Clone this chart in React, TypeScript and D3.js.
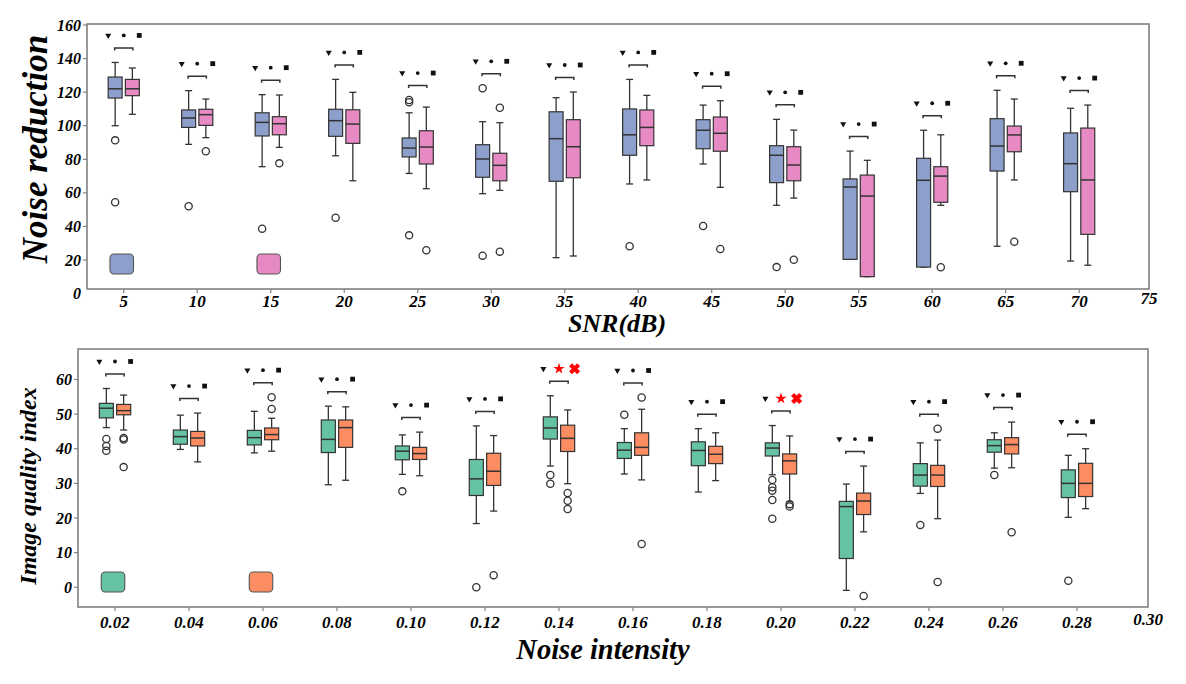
import React, { useRef, useEffect } from 'react';
import * as d3 from 'd3';

// box stats are [lower whisker, q1, median, q3, upper whisker]
type Stats = [number, number, number, number, number];

const snrLevels = [5, 10, 15, 20, 25, 30, 35, 40, 45, 50, 55, 60, 65, 70];
const snrTickLabels = [5, 10, 15, 20, 25, 30, 35, 40, 45, 50, 55, 60, 65, 70, 75];
const snrYTicks = [0, 20, 40, 60, 80, 100, 120, 140, 160];

const reductionBlue: Stats[] = [
  [100, 116.5, 122, 129, 137.7],
  [88.9, 99, 104.6, 109.4, 120.9],
  [75.6, 93.9, 102, 107.7, 118.5],
  [82.1, 93.7, 103, 109.8, 127.6],
  [71.6, 81.4, 86.7, 92.7, 107.7],
  [59.5, 69.3, 80.2, 88.7, 102.4],
  [21.4, 66.9, 92.3, 108.3, 116.7],
  [65.3, 82.4, 94.6, 110, 127.6],
  [77.2, 86.3, 97.3, 103.6, 112.3],
  [52.6, 66.1, 82.4, 88.1, 103.8],
  [20.4, 20.4, 63.5, 68.3, 84.9],
  [15.8, 15.8, 67.5, 80.6, 97.3],
  [28.2, 73, 87.9, 104.2, 121.1],
  [19.4, 60.7, 77.4, 95.7, 110.4],
];
const reductionBlueOutliers: number[][] = [
  [91.3, 54.4], [52], [38.7], [45.2], [115.3, 114, 34.7], [122.3, 22.6], [],
  [28.2], [40.3], [15.8], [], [], [], [],
];
const reductionPink: Stats[] = [
  [106.8, 117.9, 122, 127.6, 134.4],
  [92.9, 100.2, 106.6, 109.8, 115.9],
  [87.1, 94.6, 101.2, 105.4, 118.3],
  [67.2, 89.5, 101, 109.5, 119.9],
  [62.5, 77.2, 87.3, 97, 111.1],
  [61.5, 67.2, 76.4, 83.6, 101.8],
  [22.4, 69, 87.5, 103.6, 120.1],
  [67.7, 88.1, 99, 109.4, 118.1],
  [63.3, 84.8, 95.5, 105.2, 114.9],
  [56.9, 67.2, 76.6, 87.5, 97.4],
  [10.1, 10.1, 58.1, 70.6, 79.4],
  [52.6, 54.4, 70, 75.6, 94.6],
  [67.7, 84.5, 94.5, 99.8, 115.9],
  [16.9, 35.3, 67.7, 98.6, 112.3],
];
const reductionPinkOutliers: number[][] = [
  [], [84.8], [77.6], [], [25.8], [110.7, 25], [], [], [26.6], [20.2], [],
  [15.7], [30.9], [],
];

const noiseLevels = [0.02, 0.04, 0.06, 0.08, 0.1, 0.12, 0.14, 0.16, 0.18, 0.2, 0.22, 0.24, 0.26, 0.28];
const noiseTickLabels = [0.02, 0.04, 0.06, 0.08, 0.1, 0.12, 0.14, 0.16, 0.18, 0.2, 0.22, 0.24, 0.26, 0.28, 0.3];
const iqiYTicks = [0, 10, 20, 30, 40, 50, 60];

const qualityGreen: Stats[] = [
  [46.1, 48.9, 51.7, 53.1, 57.4],
  [39.8, 41.3, 43.5, 45.4, 49.7],
  [38.8, 41.1, 43.2, 45.3, 50.8],
  [29.6, 38.9, 42.7, 48.3, 52.3],
  [32.6, 36.8, 39.3, 40.8, 44],
  [18.4, 26.5, 31.3, 36.9, 46.6],
  [35, 42.8, 46, 49.2, 55.3],
  [32.7, 37.2, 39.6, 41.8, 45.8],
  [27.5, 35.1, 39.5, 42, 45.8],
  [32.5, 37.9, 40.2, 41.7, 46.7],
  [-0.9, 8.3, 23.3, 24.8, 29.8],
  [27.1, 29.2, 32.4, 35.7, 41.7],
  [34.4, 39, 40.9, 42.6, 44.6],
  [20.2, 25.9, 30, 33.9, 38.1],
];
const qualityGreenOutliers: number[][] = [
  [42.8, 40.8, 39.4], [], [], [], [27.7], [0], [32.4, 29.9], [49.8], [],
  [31, 28.9, 27.9, 25.2, 19.8], [], [18], [32.4], [1.9],
];
const qualityOrange: Stats[] = [
  [45.4, 49.8, 51, 52.8, 55.5],
  [36.2, 40.8, 43.1, 45, 50.3],
  [39.3, 42.6, 44.1, 46, 48.8],
  [30.9, 40.4, 46.1, 48.3, 52.1],
  [32.2, 36.9, 38.6, 40.4, 44.8],
  [22, 29.4, 33.5, 38.7, 43.8],
  [29.9, 39.2, 43, 46.8, 51.2],
  [31, 38.1, 40.4, 44.6, 51.4],
  [30.8, 35.7, 38.4, 40.7, 44.6],
  [24.7, 32.7, 36.5, 38.5, 43.7],
  [16, 21, 24.9, 27.2, 35],
  [19.8, 29.1, 32.4, 35.2, 42.5],
  [34.5, 38.5, 41.2, 43.2, 47.7],
  [22.7, 26.2, 30, 35.8, 40],
];
const qualityOrangeOutliers: number[][] = [
  [43.1, 42.7, 34.7], [], [54.9, 51.5], [], [], [3.5], [27.2, 25, 22.6],
  [54.8, 12.5], [], [24, 23.3], [-2.5], [45.8, 1.5], [15.9], [],
];
// groups where the star and cross markers are red
const qualityRedLevels = [0.14, 0.2];

const FONT = '"Liberation Serif", "Times New Roman", serif';
const INK = '#333333';

interface PanelConfig {
  left: number;
  right: number;
  top: number;
  bottom: number;
  xDomain: [number, number];
  yDomain: [number, number];
  levels: number[];
  xTicks: number[];
  xFormat: (d: number) => string;
  yTicks: number[];
  seriesA: Stats[];
  seriesB: Stats[];
  outliersA: number[][];
  outliersB: number[][];
  colorA: string;
  colorB: string;
  redLevels: number[];
  tickFont: number;
  xLabelOffset: number;
  xTitle: string;
  xTitleX: number;
  xTitleY: number;
  xTitleSize: number;
  yTitle: string;
  yTitleX: number;
  yTitleY: number;
  yTitleSize: number;
}

function drawPanel(svg: d3.Selection<SVGSVGElement, unknown, null, undefined>, c: PanelConfig) {
  const x = d3.scaleLinear().domain(c.xDomain).range([c.left, c.right]).clamp(true);
  const y = d3.scaleLinear().domain(c.yDomain).range([c.bottom, c.top]);
  const g = svg.append('g');

  g.append('rect')
    .attr('x', c.left)
    .attr('y', c.top)
    .attr('width', c.right - c.left)
    .attr('height', c.bottom - c.top)
    .attr('fill', '#fff')
    .attr('stroke', '#808080')
    .attr('stroke-width', 1.6);

  // y ticks
  c.yTicks.forEach(t => {
    const ty = y(t);
    if (ty >= c.top - 1 && ty <= c.bottom + 1) {
      g.append('line')
        .attr('x1', c.left - 4).attr('x2', c.left)
        .attr('y1', ty).attr('y2', ty)
        .attr('stroke', '#808080').attr('stroke-width', 1.2);
    }
    g.append('text')
      .attr('x', c.left - 6)
      .attr('y', ty)
      .attr('dy', '0.35em')
      .attr('text-anchor', 'end')
      .attr('font-family', FONT)
      .attr('font-weight', 'bold')
      .attr('font-style', 'italic')
      .attr('font-size', c.tickFont)
      .text(t);
  });

  // x ticks
  c.xTicks.forEach(t => {
    const tx = x(t);
    if (t <= c.xDomain[1]) {
      g.append('line')
        .attr('x1', tx).attr('x2', tx)
        .attr('y1', c.bottom).attr('y2', c.bottom + 4)
        .attr('stroke', '#808080').attr('stroke-width', 1.2);
    }
    g.append('text')
      .attr('x', tx)
      .attr('y', c.bottom + c.xLabelOffset - (t > c.xDomain[1] ? 3 : 0))
      .attr('text-anchor', 'middle')
      .attr('font-family', FONT)
      .attr('font-weight', 'bold')
      .attr('font-style', 'italic')
      .attr('font-size', c.tickFont + 1)
      .text(c.xFormat(t));
  });

  const step = x(c.levels[1]) - x(c.levels[0]);
  const boxW = step * 0.19;
  const offset = step * 0.117;
  const capW = boxW * 0.5;

  const drawBox = (cx: number, s: Stats, outs: number[], fill: string) => {
    const [lo, q1, med, q3, hi] = s;
    const bg = g.append('g');
    bg.append('line').attr('x1', cx).attr('x2', cx).attr('y1', y(q3)).attr('y2', y(hi))
      .attr('stroke', INK).attr('stroke-width', 1.3);
    bg.append('line').attr('x1', cx).attr('x2', cx).attr('y1', y(q1)).attr('y2', y(lo))
      .attr('stroke', INK).attr('stroke-width', 1.3);
    [hi, lo].forEach(v => {
      bg.append('line').attr('x1', cx - capW / 2).attr('x2', cx + capW / 2)
        .attr('y1', y(v)).attr('y2', y(v))
        .attr('stroke', INK).attr('stroke-width', 1.3);
    });
    bg.append('rect')
      .attr('x', cx - boxW / 2).attr('y', y(q3))
      .attr('width', boxW).attr('height', y(q1) - y(q3))
      .attr('fill', fill).attr('stroke', INK).attr('stroke-width', 1.2);
    bg.append('line').attr('x1', cx - boxW / 2).attr('x2', cx + boxW / 2)
      .attr('y1', y(med)).attr('y2', y(med))
      .attr('stroke', INK).attr('stroke-width', 1.5);
    outs.forEach(o => {
      bg.append('circle').attr('cx', cx).attr('cy', y(o)).attr('r', 3.6)
        .attr('fill', 'none').attr('stroke', INK).attr('stroke-width', 1.3);
    });
  };

  c.levels.forEach((lv, i) => {
    const cx = x(lv);
    drawBox(cx - offset, c.seriesA[i], c.outliersA[i], c.colorA);
    drawBox(cx + offset, c.seriesB[i], c.outliersB[i], c.colorB);

    // significance bracket and markers above the highest point of the pair
    const top = d3.max([
      c.seriesA[i][4], c.seriesB[i][4], ...c.outliersA[i], ...c.outliersB[i],
    ]) as number;
    const by = y(top) - 14.5;
    const my = y(top) - 27;
    const bw = step * 0.124;
    g.append('path')
      .attr('d', `M${cx - bw},${by + 2.5}V${by}H${cx + bw}V${by + 2.5}`)
      .attr('fill', 'none').attr('stroke', INK).attr('stroke-width', 1.5);

    const red = c.redLevels.includes(lv);
    const mx = step * 0.211;
    g.append('path')
      .attr('d', d3.symbol(d3.symbolTriangle, 16)())
      .attr('transform', `translate(${cx - mx},${my}) rotate(180)`)
      .attr('fill', '#111');
    if (red) {
      g.append('path')
        .attr('d', d3.symbol(d3.symbolStar, 40)())
        .attr('transform', `translate(${cx},${my})`)
        .attr('fill', '#ff0000');
      g.append('path')
        .attr('d', d3.symbol(d3.symbolCross, 64)())
        .attr('transform', `translate(${cx + mx},${my}) rotate(45)`)
        .attr('fill', '#ff0000')
        .attr('stroke', '#ff0000')
        .attr('stroke-width', 0.8);
    } else {
      g.append('circle').attr('cx', cx).attr('cy', my).attr('r', 1.9).attr('fill', '#111');
      g.append('rect')
        .attr('x', cx + mx - 2.4).attr('y', my - 2.4)
        .attr('width', 4.8).attr('height', 4.8)
        .attr('fill', '#111');
    }
  });

  // legend swatches under the first and third groups
  [
    { lv: c.levels[0], color: c.colorA },
    { lv: c.levels[2], color: c.colorB },
  ].forEach(d => {
    g.append('rect')
      .attr('x', x(d.lv) - 2 - 11.75)
      .attr('y', c.bottom - 25 - 10)
      .attr('width', 23.5)
      .attr('height', 20)
      .attr('rx', 4)
      .attr('fill', d.color)
      .attr('stroke', '#555')
      .attr('stroke-width', 1.1);
  });

  g.append('text')
    .attr('x', c.xTitleX)
    .attr('y', c.xTitleY)
    .attr('text-anchor', 'middle')
    .attr('font-family', FONT)
    .attr('font-weight', 'bold')
    .attr('font-style', 'italic')
    .attr('font-size', c.xTitleSize)
    .text(c.xTitle);

  g.append('text')
    .attr('transform', `translate(${c.yTitleX},${c.yTitleY}) rotate(-90)`)
    .attr('text-anchor', 'middle')
    .attr('font-family', FONT)
    .attr('font-weight', 'bold')
    .attr('font-style', 'italic')
    .attr('font-size', c.yTitleSize)
    .text(c.yTitle);
}

const App: React.FC = () => {
  const svgRef = useRef<SVGSVGElement>(null);

  useEffect(() => {
    if (!svgRef.current) return;
    const svg = d3.select(svgRef.current);
    svg.selectAll('*').remove();

    drawPanel(svg, {
      left: 87, right: 1149, top: 24, bottom: 289,
      xDomain: [2.5, 74.75],
      yDomain: [2.74, 160.6],
      levels: snrLevels,
      xTicks: snrTickLabels,
      xFormat: d => String(d),
      yTicks: snrYTicks,
      seriesA: reductionBlue,
      seriesB: reductionPink,
      outliersA: reductionBlueOutliers,
      outliersB: reductionPinkOutliers,
      colorA: '#8da0cb',
      colorB: '#e78ac3',
      redLevels: [],
      tickFont: 16,
      xLabelOffset: 18,
      xTitle: 'SNR(dB)',
      xTitleX: 617,
      xTitleY: 332,
      xTitleSize: 26,
      yTitle: 'Noise reduction',
      yTitleX: 47,
      yTitleY: 149,
      yTitleSize: 35,
    });

    drawPanel(svg, {
      left: 78, right: 1148, top: 349, bottom: 607,
      xDomain: [0.01, 0.2992],
      yDomain: [-5.7, 68.8],
      levels: noiseLevels,
      xTicks: noiseTickLabels,
      xFormat: d => d3.format('.2f')(d),
      yTicks: iqiYTicks,
      seriesA: qualityGreen,
      seriesB: qualityOrange,
      outliersA: qualityGreenOutliers,
      outliersB: qualityOrangeOutliers,
      colorA: '#66c2a5',
      colorB: '#fc8d62',
      redLevels: qualityRedLevels,
      tickFont: 16,
      xLabelOffset: 21,
      xTitle: 'Noise intensity',
      xTitleX: 603,
      xTitleY: 659,
      xTitleSize: 28.5,
      yTitle: 'Image quality index',
      yTitleX: 36,
      yTitleY: 486,
      yTitleSize: 24,
    });
  }, []);

  return (
    <svg
      ref={svgRef}
      width={1186}
      height={684}
      style={{ position: 'absolute', left: 0, top: 0, background: '#fff' }}
    />
  );
};

export default App;
